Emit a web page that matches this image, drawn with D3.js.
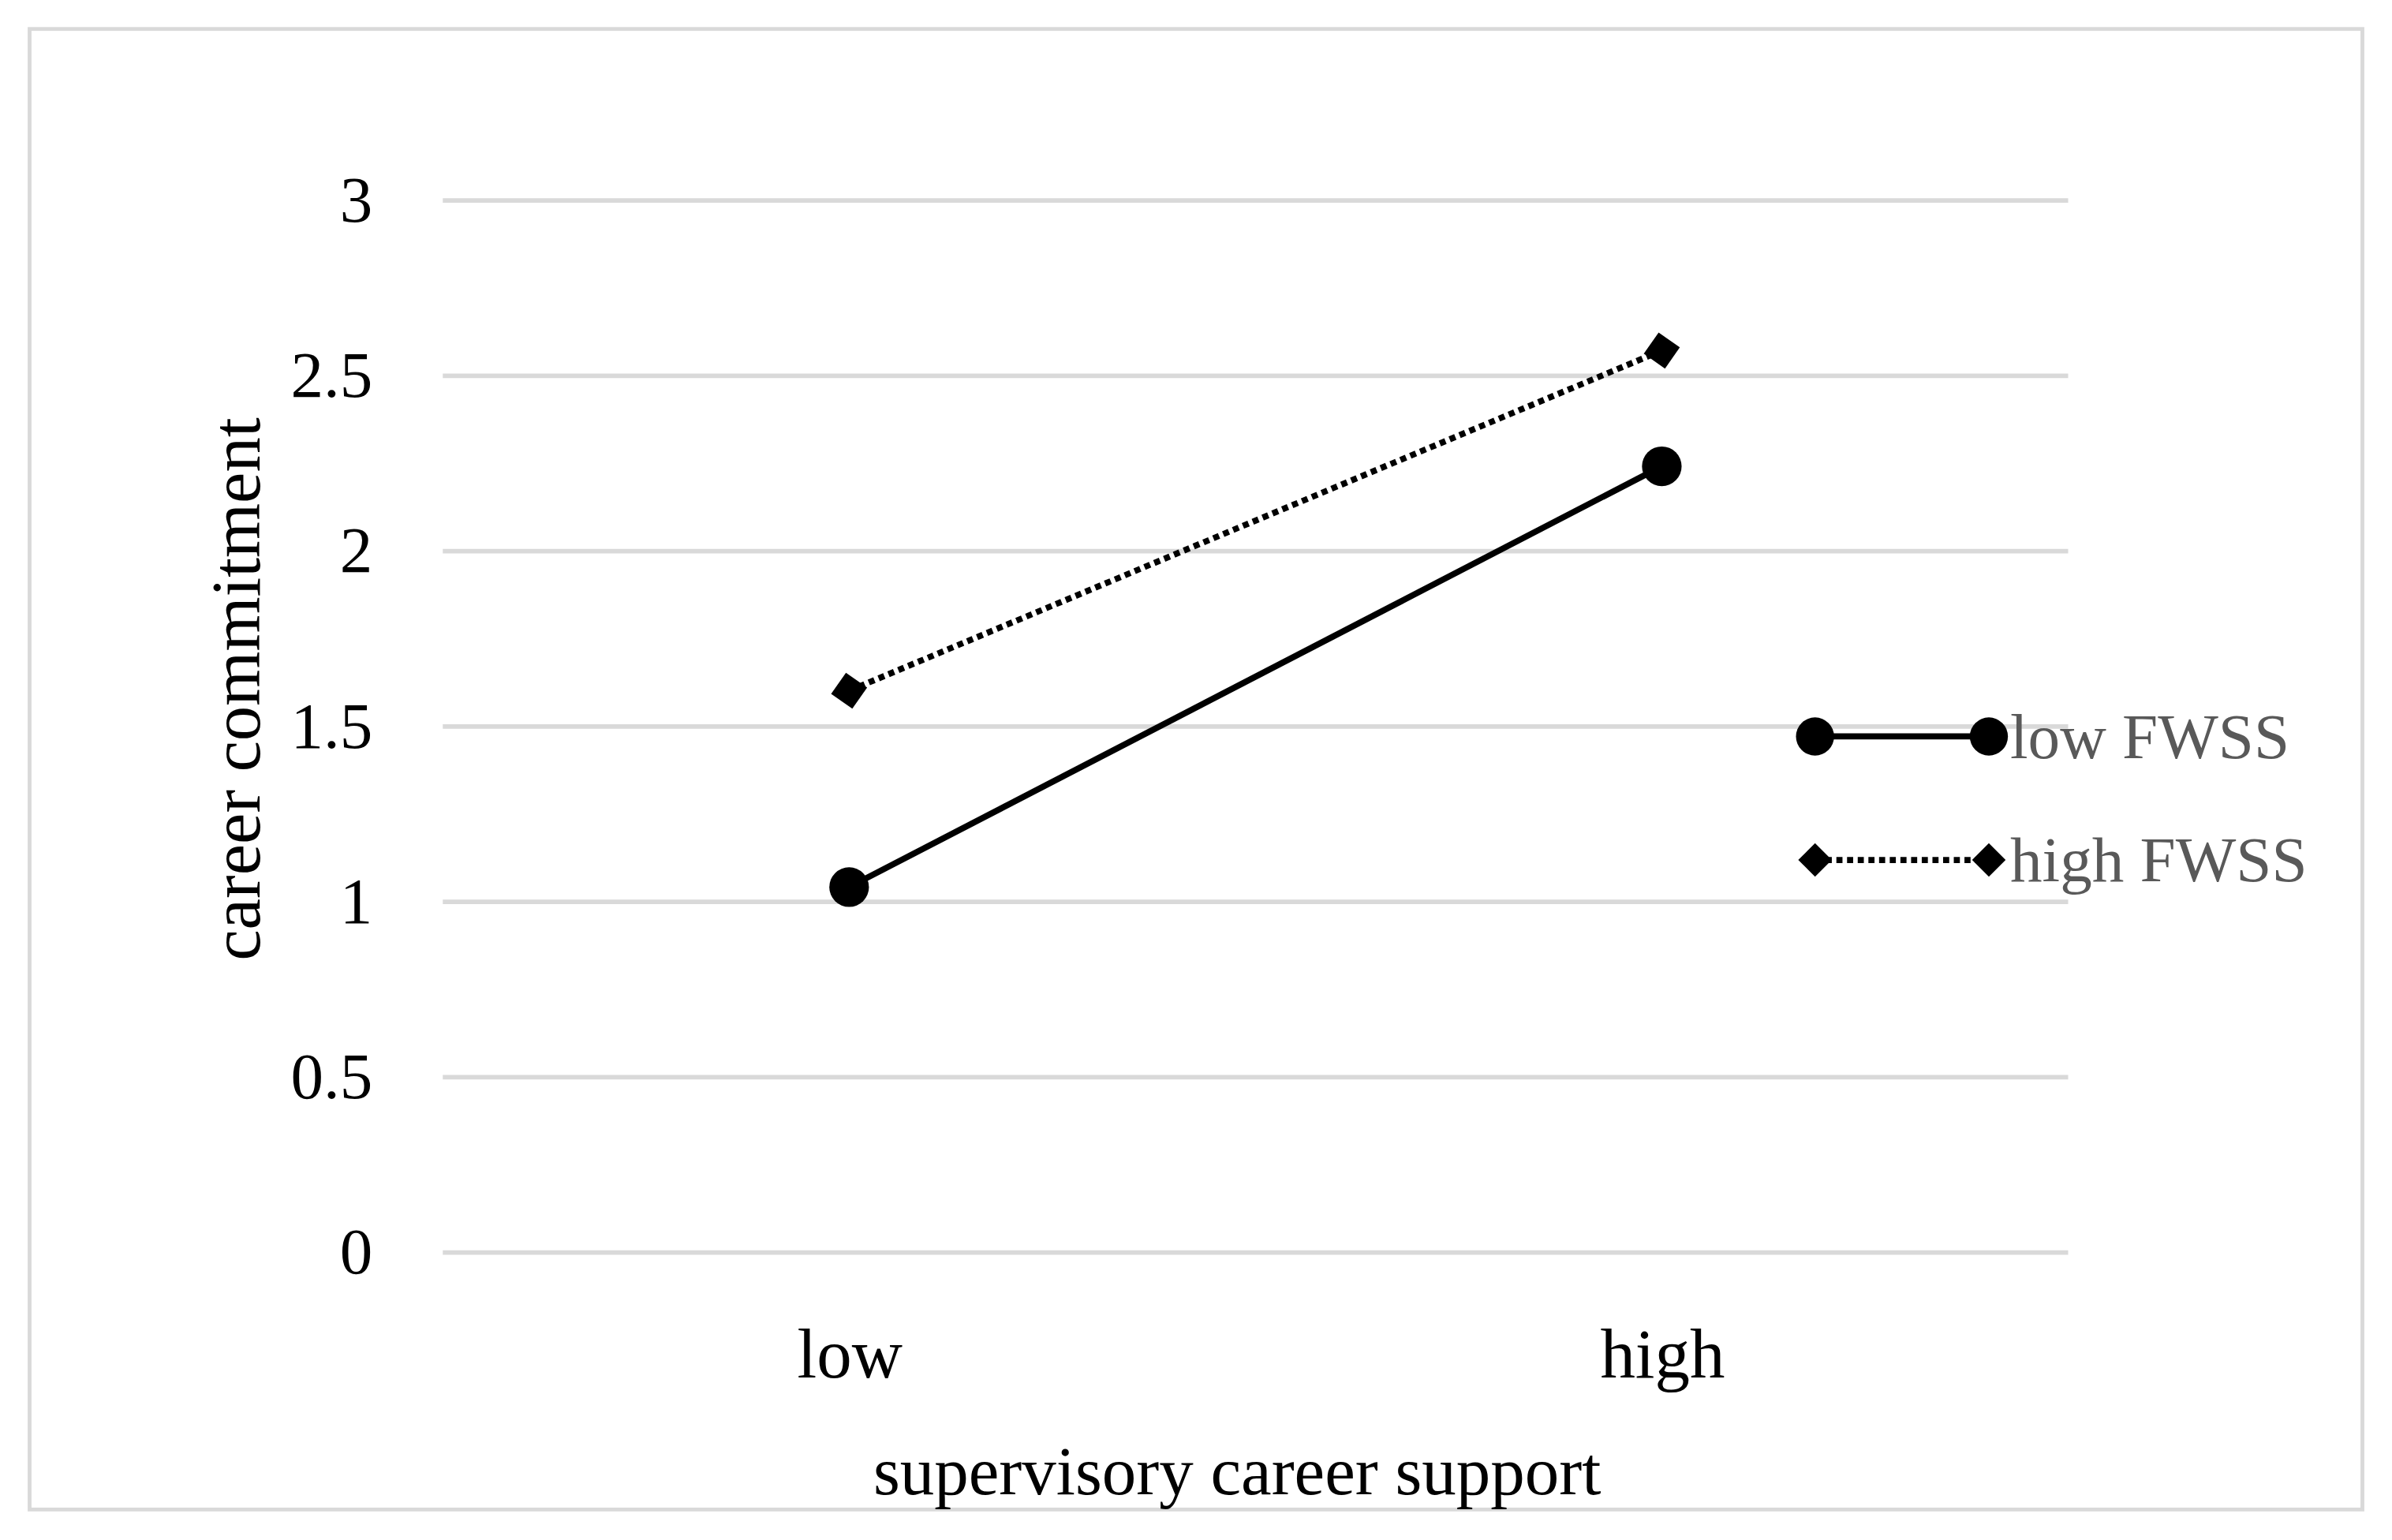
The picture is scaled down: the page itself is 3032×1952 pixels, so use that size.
<!DOCTYPE html>
<html><head><meta charset="utf-8">
<script src="https://cdn.jsdelivr.net/npm/d3@7"></script>
<style>body{margin:0;background:#fff}svg{display:block}</style>
</head><body>
<svg id="chart" width="3032" height="1952" viewBox="0 0 1568 1010"></svg>
<script>
const categories = ['low', 'high'];
const yTicks = [0, 0.5, 1, 1.5, 2, 2.5, 3];
const lowFWSS = [1.04, 2.24];
const highFWSS = [1.60, 2.57];
const seriesNames = ['low FWSS', 'high FWSS'];

const font = '"Liberation Serif", "DejaVu Serif", serif';
const svg = d3.select('#chart');
svg.append('rect').attr('x', 19).attr('y', 19).attr('width', 1530).attr('height', 971)
  .attr('fill', '#fff').attr('stroke', '#d9d9d9').attr('stroke-width', 2.5);

const x = d3.scalePoint().domain(categories).range([290, 1356]).padding(0.5);
const y = d3.scaleLinear().domain([0, 3]).range([821, 131]);

// gridlines + y tick labels
const yAxis = svg.append('g').attr('transform', 'translate(290,0)')
  .call(d3.axisLeft(y).tickValues(yTicks).tickSize(-1066).tickFormat(d => d));
yAxis.select('.domain').remove();
yAxis.selectAll('.tick line').attr('stroke', '#d9d9d9').attr('stroke-width', 3);
yAxis.selectAll('.tick text').attr('x', -46).attr('fill', '#000')
  .style('font-family', font).style('font-size', '43px');

const xAxis = svg.append('g').attr('transform', 'translate(0,821)')
  .call(d3.axisBottom(x).tickSize(0));
xAxis.select('.domain').remove();
xAxis.selectAll('.tick text').attr('y', 50).attr('fill', '#000')
  .style('font-family', font).style('font-size', '46px');

svg.append('text').attr('x', 811).attr('y', 980).attr('text-anchor', 'middle')
  .style('font-family', font).style('font-size', '45px').text('supervisory career support');
svg.append('text').attr('transform', 'translate(170,452) rotate(-90)').attr('text-anchor', 'middle')
  .style('font-family', font).style('font-size', '46px').text('career commitment');

const line = d3.line().x((d, i) => x(categories[i])).y(d => y(d));
const diamondPath = s => `M0,${-s}L${s},0L0,${s}L${-s},0Z`;

// low FWSS
svg.append('path').datum(lowFWSS).attr('d', line).attr('fill', 'none')
  .attr('stroke', '#000').attr('stroke-width', 4);
svg.selectAll('.pl').data(lowFWSS).enter().append('circle')
  .attr('cx', (d, i) => x(categories[i])).attr('cy', d => y(d)).attr('r', 13).attr('fill', '#000');

// high FWSS
svg.append('path').datum(highFWSS).attr('d', line).attr('fill', 'none')
  .attr('stroke', '#000').attr('stroke-width', 4).attr('stroke-dasharray', '4,3');
svg.selectAll('.ph').data(highFWSS).enter().append('path')
  .attr('d', diamondPath(12)).attr('fill', '#000')
  .attr('transform', (d, i) => `translate(${x(categories[i])},${y(d)}) rotate(-10)`);

// legend
const lg = svg.append('g');
[[483, 'circle', null], [564, 'diamond', '4,3']].forEach(([ly, m, dash], k) => {
  lg.append('line').attr('x1', 1190).attr('x2', 1304).attr('y1', ly).attr('y2', ly)
    .attr('stroke', '#000').attr('stroke-width', 4).attr('stroke-dasharray', dash);
  [1190, 1304].forEach(cx => {
    if (m === 'circle') lg.append('circle').attr('cx', cx).attr('cy', ly).attr('r', 12.5).attr('fill', '#000');
    else lg.append('path').attr('d', diamondPath(11))
      .attr('transform', `translate(${cx},${ly})`).attr('fill', '#000');
  });
  lg.append('text').attr('x', 1318).attr('y', ly + 14).attr('fill', '#595959')
    .style('font-family', font).style('font-size', '42px').text(seriesNames[k]);
});
</script>
</body></html>
